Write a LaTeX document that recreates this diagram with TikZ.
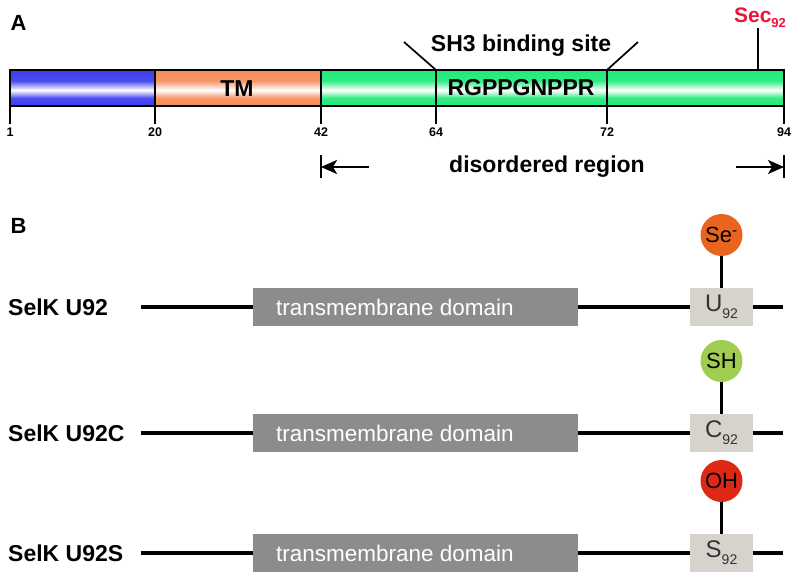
\documentclass[tikz,border=0pt]{standalone}
\usepackage{fontspec}
\setmainfont{Liberation Sans}
\usetikzlibrary{arrows.meta}
\definecolor{ntermcol}{RGB}{60,60,240}
\definecolor{tmcol}{RGB}{245,140,90}
\definecolor{discol}{RGB}{30,235,120}
\definecolor{seccol}{RGB}{235,20,60}
\definecolor{boxgray}{RGB}{140,140,140}
\definecolor{resgray}{RGB}{214,211,204}
\definecolor{secircle}{RGB}{235,100,30}
\definecolor{shcircle}{RGB}{160,205,80}
\definecolor{ohcircle}{RGB}{220,40,20}
\colorlet{segcol}{ntermcol}
\pgfdeclareverticalshading[segcol]{barshade}{100bp}{%
  color(0bp)=(segcol); color(25bp)=(segcol); color(36bp)=(segcol!92!white);
  color(47bp)=(white); color(60bp)=(segcol!92!white); color(75bp)=(segcol);
  color(100bp)=(segcol)}
\newcommand{\bigbold}{\fontsize{23}{26}\selectfont\bfseries}

\begin{document}
\begin{tikzpicture}[x=1pt,y=-1pt]
  \useasboundingbox (0,0) rectangle (800,580);
  \tikzset{
    segment/.style={draw, line width=1.8pt, /utils/exec={\colorlet{segcol}{#1}}, shading=barshade},
    tick/.style={line width=1.7pt},
    num/.style={font=\fontsize{12.5}{14}\selectfont\bfseries, inner sep=1pt},
    span arrow/.style={line width=2pt, -{Stealth[length=16pt,width=14pt,inset=4pt]}},
    chain/.style={line width=3.4pt},
    tmbox/.style={fill=boxgray, minimum width=325pt, minimum height=38pt, inner sep=0pt},
    resbox/.style={fill=resgray, text=black!80, minimum width=63pt, minimum height=38pt,
      inner sep=0pt, font=\fontsize{24}{26}\selectfont},
    group/.style={circle, fill=#1, minimum size=42pt, inner sep=0pt,
      font=\fontsize{22}{24}\selectfont}
  }
  % panel A
  \node[anchor=west, font=\fontsize{22}{24}\selectfont\bfseries] (labA) at (7,22.5) {A};
  \path[segment=ntermcol] (10,70) rectangle (155,106);
  \path[segment=tmcol] (155,70) rectangle (321,106);
  \path[segment=discol] (321,70) rectangle (784,106);
  \draw[tick] (436,70) -- (436,106);
  \draw[tick] (607,70) -- (607,106);
  \node[font=\bigbold] (tm) at (237,89) {TM};
  \node[font=\bigbold] (motif) at (521,88) {RGPPGNPPR};
  \foreach \pos/\num in {10/1,155/20,321/42,436/64,607/72,784/94} {
    \draw[tick] (\pos,106) -- (\pos,124);
    \node[num] at (\pos,132) {\num};
  }
  % SH3 site and Sec
  \draw[tick] (404,42) -- (436,70);
  \draw[tick] (638,42) -- (607,70);
  \node[font=\bigbold] (sh3) at (521,46) {SH3 binding site};
  \draw[tick] (758,28) -- (758,70);
  \node[text=seccol, font=\fontsize{21}{24}\selectfont\bfseries] (sec) at (760,18)
    {Sec\raisebox{-5pt}{\fontsize{13}{14}\selectfont 92}};
  % disordered region
  \draw[tick] (321,155) -- (321,178);
  \draw[tick] (784,155) -- (784,178);
  \coordinate (disL) at (321,167);
  \coordinate (disR) at (784,167);
  \draw[span arrow] (369,167) -- (disL);
  \draw[span arrow] (736,167) -- (disR);
  \node[font=\bigbold] (dis) at (547,167) {disordered region};

  % panel B
  \node[anchor=west, font=\fontsize{22}{24}\selectfont\bfseries] (labB) at (7,226) {B};
  \foreach \y/\tag/\res/\grp/\gcol [count=\i] in {%
    307/U92/U/Se\textsuperscript{-}/secircle,%
    433/U92C/C/SH/shcircle,%
    553/U92S/S/OH/ohcircle%
  } {
    \node[anchor=west, font=\bigbold, inner sep=0pt] (lbl\i) at (8,\y) {SelK \tag};
    \coordinate (start\i) at (141,\y);
    \node[tmbox] (tm\i) at (415.5,\y) {};
    \node[text=white, font=\fontsize{22.5}{24}\selectfont] at (395,\y) {transmembrane domain};
    \node[resbox] (res\i) at (721.5,\y) {\res\raisebox{-7pt}{\fontsize{14}{15}\selectfont 92}};
    \coordinate (end\i) at (783,\y);
    \node[group=\gcol] (grp\i) at (721.5,\y-72) {\grp};
    \draw[chain] (start\i) -- (tm\i);
    \draw[chain] (tm\i) -- (res\i);
    \draw[chain] (res\i) -- (end\i);
    \draw[chain] (grp\i) -- (res\i);
  }
\end{tikzpicture}
\end{document}
